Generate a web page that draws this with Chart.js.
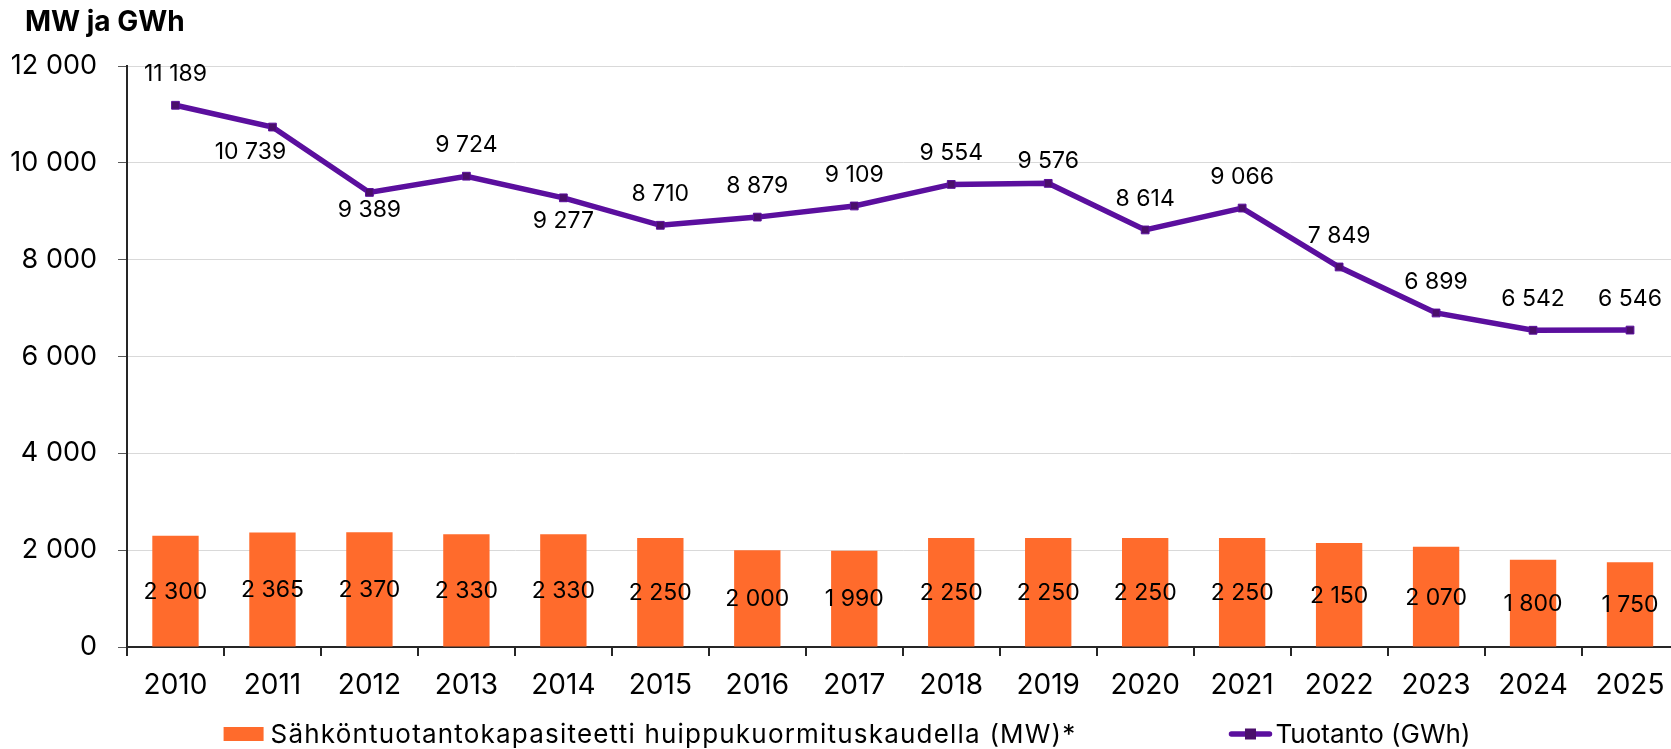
<!DOCTYPE html>
<html>
<head>
<meta charset="utf-8">
<script src="https://cdn.jsdelivr.net/npm/chart.js@4"></script>
<style>
  html, body { margin: 0; padding: 0; background: #fff; overflow: hidden; }
  #wrap { position: absolute; left: 0; top: 0; width: 1685px; height: 749px; }
</style>
</head>
<body>
<div id="wrap"><canvas id="c" width="1685" height="749"></canvas></div>
<script>
const categories = ['2010','2011','2012','2013','2014','2015','2016','2017','2018','2019','2020','2021','2022','2023','2024','2025'];
const capacityMW = [2300, 2365, 2370, 2330, 2330, 2250, 2000, 1990, 2250, 2250, 2250, 2250, 2150, 2070, 1800, 1750];
const productionGWh = [11189, 10739, 9389, 9724, 9277, 8710, 8879, 9109, 9554, 9576, 8614, 9066, 7849, 6899, 6542, 6546];
const yTicks = [0, 2000, 4000, 6000, 8000, 10000, 12000];
const lineLabelSide = ['above','below','below','above','below','above','above','above','above','above','above','above','above','above','above','above'];
const titleText = 'MW ja GWh';
const barLabel = 'Sähköntuotantokapasiteetti huippukuormituskaudella (MW)*';
const lineLabel = 'Tuotanto (GWh)';

const FONT = 'Inter, "Noto Sans", sans-serif';
const ORANGE = '#FF6B2C';
const PURPLE = '#5B0F9E';
const MARKER = '#4A0E6B';

function fmt(v) { return String(v).replace(/\B(?=(\d{3})+(?!\d))/g, ' '); }

const customPlugin = {
  id: 'custom',
  afterDatasetsDraw(chart) {
    const ctx = chart.ctx;
    ctx.save();
    ctx.fillStyle = '#000';
    ctx.textAlign = 'center';
    ctx.textBaseline = 'middle';
    ctx.font = '23px ' + FONT;
    const barMeta = chart.getDatasetMeta(1);
    barMeta.data.forEach((el, i) => {
      const p = el.getProps(['x','y','base'], true);
      ctx.fillText(fmt(capacityMW[i]), p.x, (p.y + p.base) / 2 + 1);
    });
    const lineMeta = chart.getDatasetMeta(0);
    lineMeta.data.forEach((el, i) => {
      const p = el.getProps(['x','y'], true);
      let dx = 0, dy = -31;
      if (lineLabelSide[i] === 'below') { dy = 23; }
      if (i === 1) { dx = -22; dy = 25; }
      if (i === 2) { dy = 18; }
      if (i === 9) { dy = -22; }
      ctx.fillText(fmt(productionGWh[i]), p.x + dx, p.y + dy);
    });
    ctx.restore();
  },
  afterDraw(chart) {
    const ctx = chart.ctx;
    ctx.save();
    ctx.fillStyle = '#000';
    ctx.font = 'bold 28px ' + FONT;
    ctx.textAlign = 'left';
    ctx.textBaseline = 'alphabetic';
    ctx.fillText(titleText, 25, 31);
    ctx.font = '26px ' + FONT;
    ctx.textBaseline = 'middle';
    const y = 734;
    ctx.letterSpacing = '1.2px';
    const w1 = ctx.measureText(barLabel).width;
    ctx.letterSpacing = '0px';
    const w2 = ctx.measureText(lineLabel).width;
    const gap = 152;
    const total = 40 + 7 + w1 + gap + 44 + 3 + w2;
    let x = 847 - total / 2;
    ctx.fillStyle = ORANGE;
    ctx.fillRect(x, y - 7, 40, 14);
    ctx.fillStyle = '#000';
    ctx.letterSpacing = '1.2px';
    ctx.fillText(barLabel, x + 47, y + 1);
    ctx.letterSpacing = '0px';
    x += 47 + w1 + gap;
    ctx.strokeStyle = PURPLE;
    ctx.lineWidth = 5.5;
    ctx.lineCap = 'round';
    ctx.beginPath();
    ctx.moveTo(x + 3, y);
    ctx.lineTo(x + 41, y);
    ctx.stroke();
    ctx.fillStyle = MARKER;
    ctx.fillRect(x + 22 - 5.5, y - 5.5, 11, 11);
    ctx.fillStyle = '#000';
    ctx.fillText(lineLabel, x + 47, y + 1);
    ctx.restore();
  }
};

new Chart(document.getElementById('c'), {
  data: {
    labels: categories,
    datasets: [
      {
        type: 'line',
        label: lineLabel,
        data: productionGWh,
        borderColor: PURPLE,
        borderWidth: 5.5,
        pointStyle: 'rect',
        pointRadius: 5.5,
        pointBackgroundColor: MARKER,
        pointBorderColor: PURPLE,
        pointBorderWidth: 1,
        tension: 0,
        order: 0
      },
      {
        type: 'bar',
        label: barLabel,
        data: capacityMW,
        backgroundColor: ORANGE,
        categoryPercentage: 1,
        barPercentage: 0.478,
        order: 1
      }
    ]
  },
  options: {
    responsive: false,
    animation: false,
    devicePixelRatio: 1,
    layout: { padding: { top: 66, left: 0, right: 4, bottom: 42 } },
    plugins: { legend: { display: false }, tooltip: { enabled: false }, title: { display: false } },
    scales: {
      x: {
        type: 'category',
        offset: true,
        grid: { display: true, drawOnChartArea: false, drawTicks: true, tickLength: 9, tickColor: '#262626', offset: true, lineWidth: 2 },
        border: { display: true, color: '#262626', width: 2 },
        ticks: { color: '#000', font: { family: FONT, size: 28 }, padding: 13, maxRotation: 0, autoSkip: false },
        afterFit: s => { s.height = 60; }
      },
      y: {
        min: 0, max: 12000,
        afterBuildTicks: s => { s.ticks = yTicks.map(v => ({ value: v })); },
        grid: { color: '#d9d9d9', lineWidth: 1, tickLength: 9, tickColor: '#595959', drawTicks: true },
        border: { display: true, color: '#262626', width: 2 },
        ticks: { color: '#000', font: { family: FONT, size: 27 }, padding: 21, callback: v => fmt(v) },
        afterFit: s => { s.width = 127; }
      }
    }
  },
  plugins: [customPlugin]
});
</script>
</body>
</html>
